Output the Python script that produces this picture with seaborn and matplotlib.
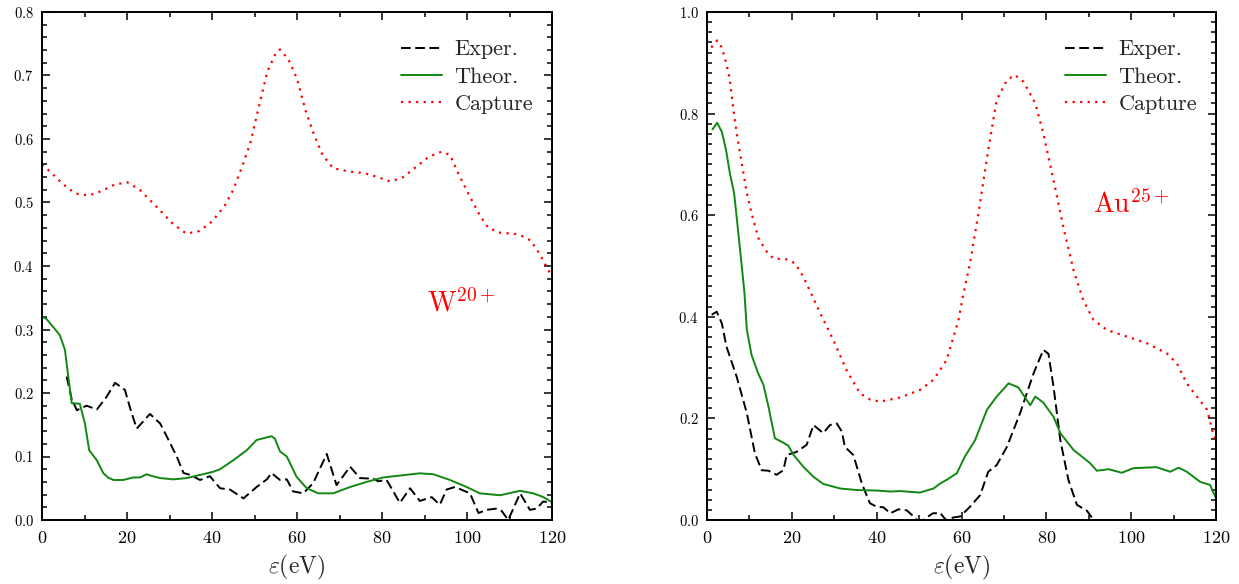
import numpy as np
import pandas as pd
import matplotlib
matplotlib.use("Agg")
import matplotlib.pyplot as plt
from matplotlib.ticker import MultipleLocator
import seaborn as sns

# ---------------- data ----------------
# Left panel: W20+
lc_x = [0, 2, 4, 6, 8, 11, 14, 17, 20, 23, 27, 31, 34, 37, 40, 43, 45, 47, 49, 51, 53, 55, 56, 58,
        60, 62, 64, 66, 68.5, 72, 76, 79, 82, 85, 88, 91, 94, 96, 98, 100.7, 103, 105, 108, 111,
        113, 115, 117, 120]
lc_y = [0.560, 0.548, 0.535, 0.523, 0.514, 0.511, 0.518, 0.528, 0.532, 0.520, 0.493, 0.465, 0.451,
        0.455, 0.470, 0.495, 0.520, 0.555, 0.593, 0.650, 0.706, 0.735, 0.741, 0.725, 0.695, 0.645,
        0.607, 0.575, 0.554, 0.549, 0.546, 0.540, 0.533, 0.540, 0.556, 0.572, 0.580, 0.575, 0.545,
        0.509, 0.480, 0.460, 0.452, 0.451, 0.447, 0.440, 0.420, 0.383]

lt_x = [0, 1, 2.5, 4.2, 5.4, 6.2, 7, 8.9, 10.1, 11.1, 12.9, 14.4, 15.5, 16.8, 19.1, 21.5, 23.1,
        24.6, 26, 27.8, 30.9, 34, 37.2, 40.3, 41.9, 45, 48.2, 50.5, 54, 54.8, 56, 57.6, 59.9, 62.3,
        65, 68.5, 72.5, 76.4, 80.3, 84.2, 88.9, 92.1, 96, 99.9, 103, 107.8, 112.5, 115.6, 118, 120]
lt_y = [0.320, 0.317, 0.305, 0.291, 0.268, 0.225, 0.184, 0.183, 0.152, 0.110, 0.094, 0.074, 0.067,
        0.063, 0.063, 0.067, 0.067, 0.072, 0.069, 0.066, 0.064, 0.066, 0.071, 0.076, 0.080, 0.094,
        0.110, 0.126, 0.132, 0.128, 0.108, 0.100, 0.068, 0.050, 0.042, 0.042, 0.052, 0.060, 0.067,
        0.070, 0.0735, 0.072, 0.063, 0.052, 0.042, 0.039, 0.046, 0.042, 0.036, 0.028]

le_x = [5.8, 7, 8.2, 10.5, 12.9, 15.2, 17.2, 19.5, 21, 22.3, 25.4, 27.8, 29.4, 31.7, 33.3, 34.9,
        37.2, 39.5, 41.9, 44.2, 47.4, 50.5, 52.9, 54, 56, 57.6, 59.1, 61.5, 63.8, 67, 69.3, 72.5,
        74.8, 78, 79.1, 81.1, 84.2, 86.6, 88.9, 91.7, 93.6, 95.2, 97.2, 100.7, 102.7, 104.6, 107,
        108.2, 109.7, 112.5, 114.8, 116.4, 117.9, 119.5, 120]
le_y = [0.226, 0.190, 0.173, 0.180, 0.174, 0.194, 0.216, 0.205, 0.170, 0.144, 0.167, 0.152, 0.131,
        0.100, 0.074, 0.071, 0.063, 0.069, 0.050, 0.048, 0.034, 0.052, 0.064, 0.074, 0.063, 0.064,
        0.045, 0.042, 0.058, 0.104, 0.055, 0.084, 0.066, 0.065, 0.061, 0.063, 0.027, 0.050, 0.030,
        0.036, 0.024, 0.048, 0.052, 0.042, 0.011, 0.016, 0.018, 0.014, 0.0, 0.042, 0.016, 0.018,
        0.029, 0.028, 0.026]

# Right panel: Au25+
rc_x = [1.0, 1.3, 2.4, 3.5, 4.5, 5.3, 6.2, 7, 8.2, 9.4, 10.5, 12.1, 14.1, 15.6, 18.8, 20.8, 22.7,
        25.1, 26.7, 29.8, 32.9, 36.1, 38.5, 40.8, 45.5, 50.2, 53.4, 56.5, 59.3, 60.4, 62, 64, 66.3,
        68.3, 70.7, 72.6, 74.6, 77.4, 79.3, 81.7, 84, 86.4, 88.7, 91.1, 94.3, 99, 103.7, 108.4,
        110.8, 113.1, 115.5, 117.9, 119.5, 120]
rc_y = [0.930, 0.933, 0.944, 0.930, 0.900, 0.871, 0.810, 0.761, 0.702, 0.643, 0.604, 0.555, 0.528,
        0.515, 0.513, 0.505, 0.479, 0.436, 0.407, 0.354, 0.295, 0.249, 0.237, 0.233, 0.241, 0.256,
        0.276, 0.315, 0.394, 0.443, 0.505, 0.604, 0.728, 0.827, 0.866, 0.876, 0.863, 0.820, 0.761,
        0.669, 0.577, 0.492, 0.433, 0.394, 0.374, 0.361, 0.348, 0.328, 0.308, 0.269, 0.243, 0.217,
        0.164, 0.160]

rt_x = [1.3, 2.4, 3.5, 4.5, 5.4, 6.4, 7.4, 8.2, 8.8, 9.4, 10.5, 12, 13.3, 14.5, 16, 18, 19.2, 20.4,
        22.7, 25.1, 27.4, 31.4, 35.3, 40, 43.2, 45.5, 50.2, 53.4, 55, 56.5, 58.9, 60.8, 63.2, 66,
        68.3, 71.1, 73.4, 76.2, 77.4, 79.3, 81.7, 83.3, 86.4, 90.3, 91.9, 94.7, 97.8, 100.5, 106,
        109.2, 111.2, 113.1, 116.3, 118.6, 120]
rt_y = [0.769, 0.782, 0.764, 0.728, 0.682, 0.643, 0.564, 0.499, 0.450, 0.374, 0.325, 0.290, 0.266,
        0.223, 0.161, 0.152, 0.146, 0.128, 0.105, 0.085, 0.071, 0.062, 0.059, 0.058, 0.056, 0.057,
        0.054, 0.062, 0.072, 0.079, 0.092, 0.125, 0.157, 0.217, 0.243, 0.269, 0.261, 0.226, 0.243,
        0.231, 0.203, 0.171, 0.138, 0.112, 0.097, 0.100, 0.093, 0.102, 0.104, 0.095, 0.103, 0.095,
        0.075, 0.069, 0.043]

re_x = [1.1, 2.3, 3.5, 4.6, 7, 9.4, 11.3, 12.9, 14.5, 16.4, 18, 18.8, 21.1, 23.5, 25.1, 27.4, 29,
        30.6, 31.8, 32.5, 34.5, 36.5, 38.4, 40, 41.6, 43.2, 45.1, 47.1, 48.3, 49.5, 51, 53.2, 55,
        56.3, 58.1, 59.7, 62, 64.4, 66.3, 68.3, 70.7, 73.8, 77, 79.3, 80.5, 81.7, 83.3, 85.2, 87.2,
        89.6, 90.7]
re_y = [0.404, 0.410, 0.387, 0.341, 0.282, 0.210, 0.131, 0.098, 0.097, 0.089, 0.098, 0.128, 0.134,
        0.148, 0.187, 0.171, 0.187, 0.190, 0.174, 0.144, 0.128, 0.072, 0.033, 0.026, 0.025, 0.013,
        0.021, 0.019, 0.010, 0.0, 0.0, 0.013, 0.014, 0.0, 0.005, 0.007, 0.026, 0.049, 0.095, 0.108,
        0.144, 0.210, 0.289, 0.335, 0.327, 0.262, 0.157, 0.079, 0.030, 0.018, 0.005]

series_labels = ["Exper.", "Theor.", "Capture"]
ion_labels = [r"W$^{20+}$", r"Au$^{25+}$"]
x_ticks = [0, 20, 40, 60, 80, 100, 120]

# ---------------- style ----------------
sns.set_style("ticks")
plt.rcParams.update({
    "font.family": ["serif"],
    "font.serif": ["cmr10", "DejaVu Serif"],
    "mathtext.fontset": "cm",
    "axes.formatter.use_mathtext": True,
    "axes.linewidth": 1.4,
    "axes.edgecolor": "black",
    "xtick.color": "black",
    "ytick.color": "black",
    "axes.unicode_minus": False,
})

fig = plt.figure(figsize=(12.39, 5.84), dpi=100)
ax1 = fig.add_axes([42 / 1239, 64 / 584, 510 / 1239, 508 / 584])
ax2 = fig.add_axes([707 / 1239, 64 / 584, 509 / 1239, 508 / 584])

green = "#118811"
dash_ls = (0, (5.0, 2.3))
dot_ls = (0, (1.0, 2.4))


def draw(ax, ex, ey, tx, ty, cx, cy, ymax, ymaj, ion, ion_pos, leg_anchor):
    sns.lineplot(x=ex, y=ey, ax=ax, color="black", linestyle=dash_ls, lw=1.4,
                 label=series_labels[0], sort=False, estimator=None)
    sns.lineplot(x=tx, y=ty, ax=ax, color=green, linestyle="-", lw=1.4,
                 label=series_labels[1], sort=False, estimator=None)
    sns.lineplot(x=cx, y=cy, ax=ax, color="red", linestyle=dot_ls, lw=1.6,
                 label=series_labels[2], sort=False, estimator=None)
    ax.set_xlim(0, 120)
    ax.set_ylim(0, ymax)
    ax.set_xticks(x_ticks)
    ax.xaxis.set_minor_locator(MultipleLocator(10))
    ax.yaxis.set_major_locator(MultipleLocator(ymaj))
    ax.yaxis.set_minor_locator(MultipleLocator(0.02))
    ax.tick_params(which="both", direction="in", top=True, right=True, width=1.1)
    ax.tick_params(which="major", length=6)
    ax.tick_params(which="minor", length=3.5)
    ax.tick_params(axis="x", which="major", labelsize=13, pad=7)
    ax.tick_params(axis="y", which="major", labelsize=10.5, pad=6)
    ax.set_xlabel(r"$\varepsilon$(eV)", fontsize=17, labelpad=5)
    ax.set_ylabel("")
    for s in ax.spines.values():
        s.set_visible(True)
        s.set_linewidth(1.4)
    ax.text(ion_pos[0], ion_pos[1], ion, color="red", fontsize=20, ha="left", va="baseline")
    ax.legend(loc="upper right", bbox_to_anchor=leg_anchor, frameon=False, fontsize=16,
              labelspacing=0.35, handlelength=1.85, handletextpad=0.55, borderpad=0,
              borderaxespad=0)


draw(ax1, le_x, le_y, lt_x, lt_y, lc_x, lc_y, 0.8, 0.1, ion_labels[0], (90.5, 0.328),
     (0.963, 0.945))
draw(ax2, re_x, re_y, rt_x, rt_y, rc_x, rc_y, 1.0, 0.2, ion_labels[1], (91.0, 0.604),
     (0.963, 0.945))

fig.savefig("out.png", dpi=100)
